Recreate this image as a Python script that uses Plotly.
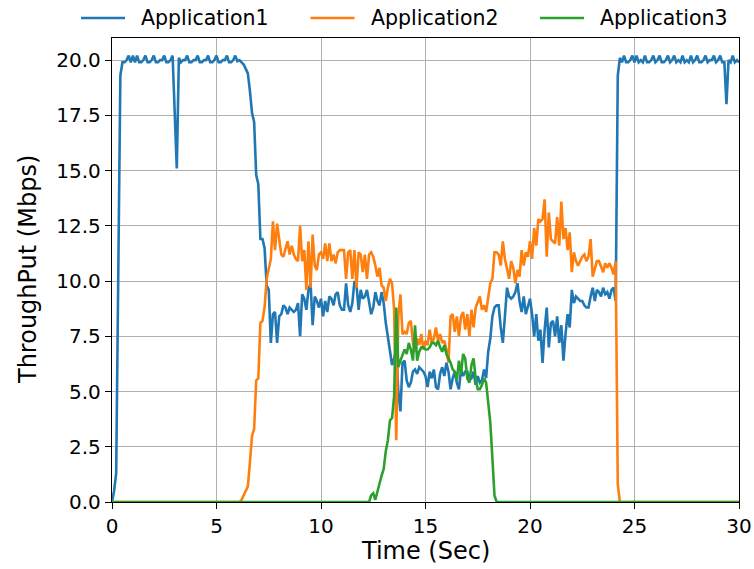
import numpy as np
import plotly.graph_objects as go

# Sample times (s), 0.1 s resolution
time_s = np.round(np.arange(0, 30.01, 0.1), 1)

app1 = [
    0.0, 0.5, 1.3, 9.5, 19.3, 19.9, 19.9, 20.0, 20.2, 19.9,
    20.2, 19.9, 20.2, 19.9, 19.9, 20.0, 20.2, 19.9, 19.9, 20.0,
    20.2, 19.9, 19.9, 20.0, 20.0, 20.2, 19.9, 19.9, 20.0, 20.2,
    17.8, 15.1, 20.1, 19.9, 20.0, 20.0, 20.2, 19.9, 19.9, 20.0,
    20.0, 20.2, 19.9, 19.9, 20.0, 20.0, 20.2, 19.9, 19.9, 20.0,
    20.2, 19.9, 19.9, 20.0, 20.0, 20.2, 19.9, 19.9, 20.0, 20.2,
    19.95, 20.0, 19.9, 19.8, 19.6, 19.4, 18.6, 17.6, 17.2, 14.8,
    14.4, 11.9, 11.9, 11.5, 9.8, 9.6, 7.2, 8.5, 8.6, 7.2,
    8.4, 8.5, 8.9, 8.8, 8.5, 8.8, 8.7, 8.6, 8.7, 9.0,
    7.5, 9.4, 9.2, 8.7, 9.6, 9.9, 8.0, 9.3, 9.1, 8.8,
    9.2, 8.4, 9.1, 8.6, 9.3, 9.2, 8.9, 9.4, 9.5, 8.9,
    8.7, 8.7, 9.9, 8.9, 8.6, 9.0, 10.0, 9.8, 8.7, 9.6,
    9.2, 9.3, 9.6, 9.0, 8.5, 8.8, 9.5, 9.1, 8.9, 9.5,
    9.0, 8.1, 7.5, 6.9, 6.2, 6.5, 6.9, 5.0, 4.1, 6.3,
    6.4, 5.5, 5.2, 5.4, 5.9, 6.0, 5.8, 6.1, 6.0, 5.9,
    5.7, 5.2, 5.9, 5.6, 6.0, 5.2, 5.1, 5.8, 6.1, 5.7,
    6.3, 5.9, 5.1, 5.6, 5.9, 5.4, 5.1, 6.0, 5.7, 5.9,
    5.9, 5.5, 5.6, 5.9, 5.3, 5.7, 5.4, 5.5, 6.0, 5.6,
    6.8, 7.4, 8.4, 8.8, 8.9, 8.9, 7.9, 7.2, 8.4, 9.7,
    9.3, 9.2, 9.3, 9.5, 9.9, 9.1, 8.6, 9.3, 8.5, 8.8,
    9.2, 8.5, 7.5, 8.5, 7.3, 7.8, 6.3, 7.8, 8.8, 7.0,
    8.1, 8.2, 7.5, 8.4, 7.2, 8.0, 6.4, 7.6, 8.5, 7.9,
    9.6, 9.0, 9.3, 9.2, 9.1, 9.1, 8.9, 8.8, 8.8, 9.3,
    9.7, 9.1, 9.6, 9.5, 9.3, 9.7, 9.4, 9.5, 9.2, 9.6,
    9.7, 9.1, 19.3, 20.1, 19.9, 20.2, 19.9, 19.9, 20.0, 20.2,
    19.9, 20.2, 19.9, 20.0, 19.9, 20.2, 19.9, 19.9, 20.0, 20.2,
    19.9, 20.0, 20.2, 19.9, 19.9, 20.0, 20.2, 19.9, 20.0, 20.2,
    19.9, 20.0, 19.9, 20.2, 19.9, 20.0, 19.9, 20.2, 19.9, 20.0,
    20.2, 19.9, 19.9, 20.0, 20.2, 19.9, 20.0, 20.0, 20.2, 19.9,
    20.0, 20.2, 19.9, 19.9, 18.0, 20.0, 19.9, 20.2, 19.9, 20.0,
    19.9,
]

app2 = [0.0] * 60 + [
    0.0, 0.0, 0.1, 0.3, 0.5, 0.7, 1.8, 3.0, 3.3, 5.5,
    5.6, 8.1, 8.2, 8.8, 10.1, 10.5, 11.0, 12.7, 11.4, 12.6,
    11.8, 11.2, 11.1, 11.4, 11.8, 11.2, 11.6, 11.2, 11.0, 10.9,
    12.5, 10.9, 11.4, 9.6, 11.8, 9.7, 12.1, 10.7, 10.5, 11.2,
    11.3, 11.0, 11.7, 10.9, 11.7, 10.9, 11.2, 10.8, 11.3, 11.4,
    11.4, 11.4, 10.1, 11.3, 11.4, 10.1, 11.4, 9.7, 11.3, 11.2,
    10.4, 11.2, 10.1, 11.2, 11.3, 11.1, 10.7, 10.2, 10.6, 9.8,
    9.7, 9.1, 9.7, 10.1, 9.9, 8.7, 2.8, 8.4, 9.4, 7.6,
    7.7, 7.6, 8.1, 8.2, 7.2, 6.8, 7.4, 7.1, 7.6, 6.9,
    7.3, 7.1, 7.8, 7.2, 7.4, 7.9, 7.3, 7.6, 7.2, 7.3,
    6.9, 6.3, 8.4, 8.5, 7.7, 8.4, 7.5, 8.4, 8.6, 7.8,
    8.5, 7.5, 8.7, 7.9, 8.8, 9.1, 9.3, 8.7, 8.9, 8.6,
    9.2, 9.9, 10.1, 11.3, 11.3, 11.2, 10.7, 11.8, 11.0, 10.5,
    10.1, 10.9, 10.6, 9.9, 10.5, 10.2, 11.4, 10.7, 11.3, 11.1,
    11.8, 11.0, 12.4, 11.6, 12.8, 12.7, 12.8, 13.7, 11.1, 13.1,
    11.9, 11.8, 11.7, 12.9, 11.6, 13.6, 11.9, 12.4, 11.4, 12.2,
    10.4, 11.3, 10.9, 10.7, 10.9, 11.1, 11.2, 10.9, 11.1, 11.9,
    10.2, 10.6, 10.9, 10.9, 10.6, 10.4, 10.8, 10.6, 10.8, 10.6,
    10.3, 10.9, 0.8, 0.0,
] + [0.0] * 57

app3 = [0.0] * 120 + [
    0.0, 0.0, 0.0, 0.0, 0.3, 0.4, 0.1, 0.5, 0.8, 1.2,
    1.5, 2.3, 2.8, 3.7, 3.8, 4.8, 8.8, 6.1, 6.4, 6.7,
    6.9, 6.7, 7.2, 6.9, 6.4, 8.0, 6.4, 6.8, 7.0, 7.0,
    6.9, 6.9, 7.0, 7.2, 7.2, 7.1, 7.3, 7.0, 6.8, 7.1,
    6.7, 6.5, 6.3, 6.0, 5.9, 5.5, 6.4, 5.8, 6.7, 6.5,
    5.6, 5.4, 6.2, 6.5, 5.6, 5.1, 5.1, 5.3, 5.6, 5.4,
    4.5, 3.6, 2.0, 0.3,
] + [0.0] * 117

series_names = ["Application1", "Application2", "Application3"]
series_colors = ["#1f77b4", "#ff7f0e", "#2ca02c"]
x_ticks = [0, 5, 10, 15, 20, 25, 30]
y_ticks = [0.0, 2.5, 5.0, 7.5, 10.0, 12.5, 15.0, 17.5, 20.0]

FONT = "DejaVu Sans"
W, H = 754, 569
ML, MR, MT, MB = 112, 15, 38, 67
PW, PH = W - ML - MR, H - MT - MB


def px_to_paper_x(px):
    return (px - ML) / PW


def px_to_paper_y(py):
    return (H - MB - py) / PH


fig = go.Figure()
for name, color, vals in zip(series_names, series_colors, [app1, app2, app3]):
    fig.add_trace(go.Scatter(
        x=time_s, y=vals, mode="lines", name=name, showlegend=False,
        line=dict(color=color, width=2.6),
    ))

axis_common = dict(
    showline=True, linecolor="black", linewidth=1.4, mirror=True,
    ticks="outside", ticklen=6, tickwidth=1.4, tickcolor="black",
    showgrid=True, gridcolor="#b0b0b0", gridwidth=1.4,
    zeroline=False,
    tickfont=dict(family=FONT, size=20, color="black"),
)

fig.update_xaxes(range=[0, 30], tickvals=x_ticks,
                 ticktext=[str(v) for v in x_ticks], **axis_common)
fig.update_yaxes(range=[0, 21.0], tickvals=y_ticks,
                 ticktext=[f"{v:.1f}" for v in y_ticks], **axis_common)

# Axis titles
annotations = [
    dict(text="Time (Sec)", x=0.5, y=px_to_paper_y(551), xref="paper", yref="paper",
         xanchor="center", yanchor="middle", showarrow=False,
         font=dict(family=FONT, size=24, color="black")),
    dict(text="ThroughPut (Mbps)", x=px_to_paper_x(28), y=0.5, xref="paper", yref="paper",
         xanchor="center", yanchor="middle", textangle=-90, showarrow=False,
         font=dict(family=FONT, size=24, color="black")),
]

# Legend row above the axes: handle line + label for each series
shapes = []
legend_y = px_to_paper_y(18)
for i, (name, color) in enumerate(zip(series_names, series_colors)):
    x0 = 81 + i * 229.5
    shapes.append(dict(type="line", xref="paper", yref="paper",
                       x0=px_to_paper_x(x0), x1=px_to_paper_x(x0 + 44),
                       y0=legend_y, y1=legend_y,
                       line=dict(color=color, width=2.6)))
    annotations.append(dict(text=name, x=px_to_paper_x(x0 + 58), y=legend_y,
                            xref="paper", yref="paper", xanchor="left", yanchor="middle",
                            showarrow=False,
                            font=dict(family=FONT, size=20.5, color="black")))

fig.update_layout(
    width=W, height=H,
    margin=dict(l=ML, r=MR, t=MT, b=MB, autoexpand=False),
    paper_bgcolor="white", plot_bgcolor="white",
    font=dict(family=FONT, color="black"),
    showlegend=False,
    annotations=annotations,
    shapes=shapes,
)

fig.write_html("out.html")
